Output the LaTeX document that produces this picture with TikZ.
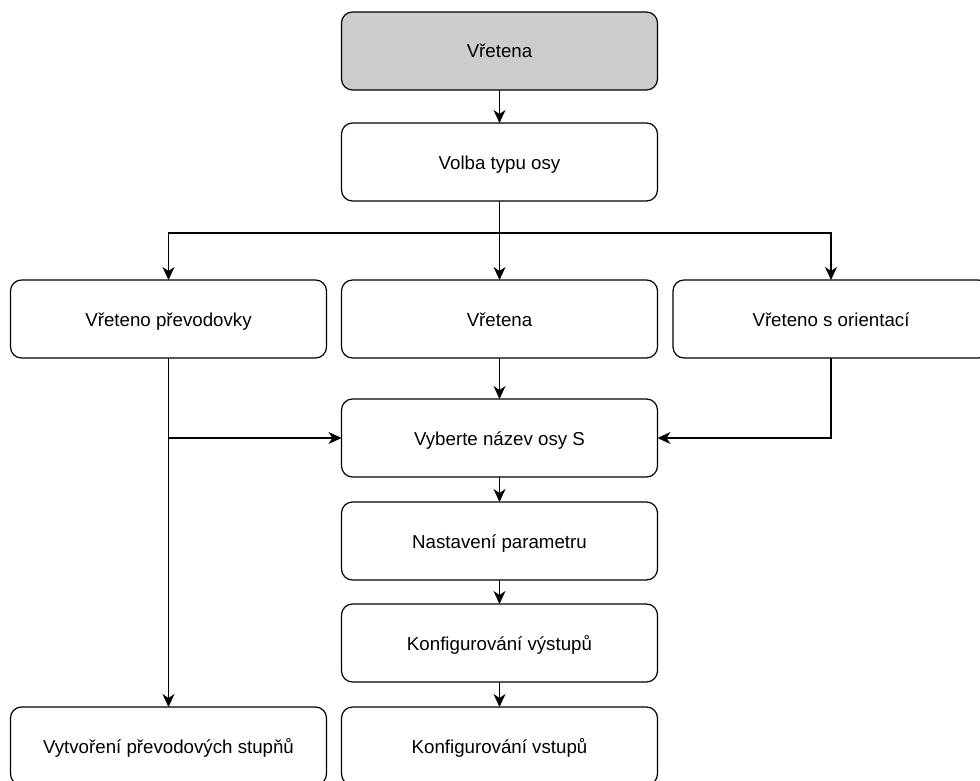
\documentclass[tikz,border=0pt]{standalone}
\usepackage{fontspec}
\setmainfont{Liberation Sans}
\usetikzlibrary{arrows.meta}
\definecolor{boxgray}{HTML}{CCCCCC}
\tikzset{
  box/.style={draw=black, line width=1.2pt, rounded corners=11pt, fill=white,
    minimum width=316pt, minimum height=78pt, inner sep=0pt, outer sep=0pt,
    text height=15.5pt, text depth=1.5pt,
    font=\fontsize{18.7pt}{22pt}\selectfont},
  arr/.style={line width=1.2pt, -{Stealth[length=13pt,width=12pt,inset=4pt]}},
  ln/.style={line width=1.2pt}
}
\begin{document}
\begin{tikzpicture}[x=1pt,y=-1pt]
\useasboundingbox (0,0) rectangle (980,781);
\clip (0,0) rectangle (980,781);
\node[box, fill=boxgray] (top) at (499.5,51) {Vřetena};
\node[box] (volba) at (499.5,162) {Volba typu osy};
\node[box] (left) at (168.5,319) {Vřeteno převodovky};
\node[box] (mid) at (499.5,319) {Vřetena};
\node[box] (right) at (831,319) {Vřeteno s orientací};
\node[box] (vyber) at (499.5,438) {Vyberte název osy S};
\node[box] (nast) at (499.5,541) {Nastavení parametru};
\node[box] (vystup) at (499.5,643) {Konfigurování výstupů};
\node[box] (vstup) at (499.5,746) {Konfigurování vstupů};
\node[box] (vytv) at (168.5,746) {Vytvoření převodových stupňů};
\coordinate (br) at (499.5,233);
\draw[arr] (top) -- (volba);
\draw[ln] (volba.south) -- (br);
\draw[arr] (br) -| (left.north);
\draw[arr] (br) -- (mid.north);
\draw[arr] (br) -| (right.north);
\draw[arr] (mid) -- (vyber);
\draw[arr] (left.south) -- (vytv.north);
\draw[arr] (left.south |- vyber.west) -- (vyber.west);
\draw[arr] (right.south) |- (vyber.east);
\draw[arr] (vyber) -- (nast);
\draw[arr] (nast) -- (vystup);
\draw[arr] (vystup) -- (vstup);
\end{tikzpicture}
\end{document}
